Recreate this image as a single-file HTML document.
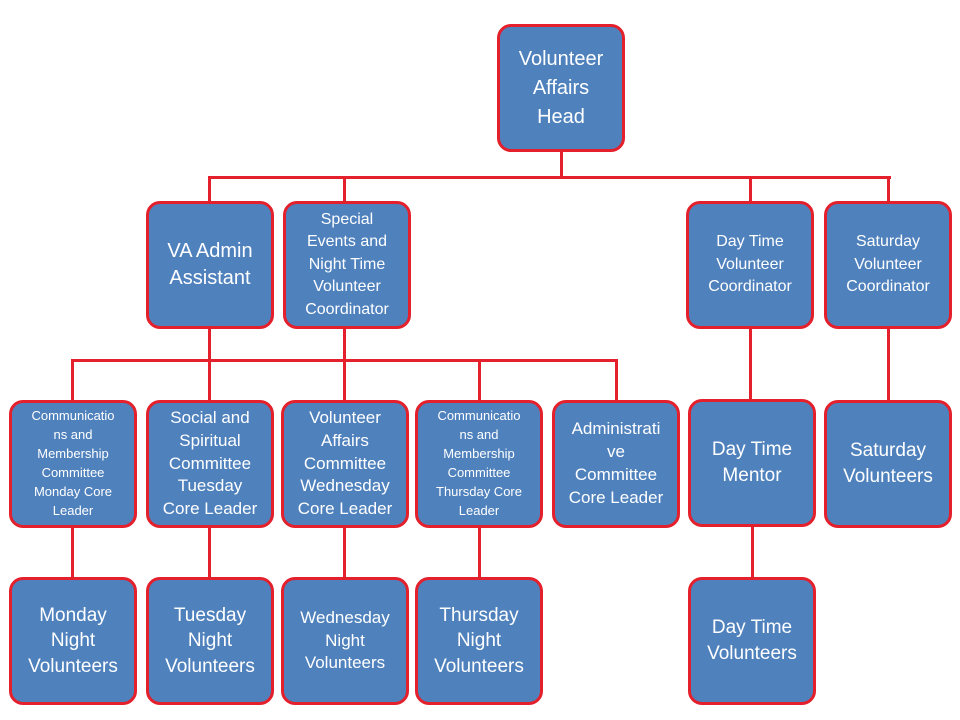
<!DOCTYPE html>
<html><head><meta charset="utf-8"><style>
body{margin:0;width:960px;height:720px;background:#fff;position:relative;overflow:hidden;font-family:"Liberation Sans",sans-serif}
.b{position:absolute;box-sizing:border-box;width:128px;height:128px;background:#4f81bd;border:3px solid #e3202b;border-radius:14px;color:#fff;display:flex;align-items:center;justify-content:center;text-align:center;line-height:1.3;font-size:16px}
.s{font-size:13px;line-height:1.45}
.l{font-size:19px;line-height:1.35}
.h{position:absolute;background:#e3202b;height:3px}
.v{position:absolute;background:#e3202b;width:3px}
</style></head><body>
<div class="v" style="left:560px;top:150px;height:28px"></div>
<div class="h" style="left:208px;top:176px;width:683px"></div>
<div class="v" style="left:208px;top:176px;height:26px"></div>
<div class="v" style="left:343px;top:176px;height:26px"></div>
<div class="v" style="left:749px;top:176px;height:26px"></div>
<div class="v" style="left:887px;top:176px;height:26px"></div>
<div class="v" style="left:208px;top:326px;height:34px"></div>
<div class="v" style="left:343px;top:326px;height:34px"></div>
<div class="h" style="left:71px;top:359px;width:547px"></div>
<div class="v" style="left:71px;top:359px;height:42px"></div>
<div class="v" style="left:208px;top:359px;height:42px"></div>
<div class="v" style="left:343px;top:359px;height:42px"></div>
<div class="v" style="left:478px;top:359px;height:42px"></div>
<div class="v" style="left:615px;top:359px;height:42px"></div>
<div class="v" style="left:749px;top:326px;height:75px"></div>
<div class="v" style="left:887px;top:326px;height:75px"></div>
<div class="v" style="left:71px;top:526px;height:52px"></div>
<div class="v" style="left:208px;top:526px;height:52px"></div>
<div class="v" style="left:343px;top:526px;height:52px"></div>
<div class="v" style="left:478px;top:526px;height:52px"></div>
<div class="v" style="left:751px;top:526px;height:52px"></div>

<div class="b l" style="left:497px;top:24px;font-size:20px;line-height:1.45">Volunteer<br>Affairs<br>Head</div>
<div class="b l" style="left:146px;top:201px;font-size:20px">VA Admin<br>Assistant</div>
<div class="b" style="left:283px;top:201px;line-height:1.4">Special<br>Events and<br>Night Time<br>Volunteer<br>Coordinator</div>
<div class="b" style="left:686px;top:201px;line-height:1.4">Day Time<br>Volunteer<br>Coordinator</div>
<div class="b" style="left:824px;top:201px;line-height:1.4">Saturday<br>Volunteer<br>Coordinator</div>

<div class="b s" style="left:9px;top:400px">Communicatio<br>ns and<br>Membership<br>Committee<br>Monday Core<br>Leader</div>
<div class="b" style="left:146px;top:400px;font-size:17px;line-height:1.35">Social and<br>Spiritual<br>Committee<br>Tuesday<br>Core Leader</div>
<div class="b" style="left:281px;top:400px;font-size:17px;line-height:1.35">Volunteer<br>Affairs<br>Committee<br>Wednesday<br>Core Leader</div>
<div class="b s" style="left:415px;top:400px">Communicatio<br>ns and<br>Membership<br>Committee<br>Thursday Core<br>Leader</div>
<div class="b" style="left:552px;top:400px;font-size:17px;line-height:1.35">Administrati<br>ve<br>Committee<br>Core Leader</div>
<div class="b l" style="left:688px;top:399px">Day Time<br>Mentor</div>
<div class="b l" style="left:824px;top:400px">Saturday<br>Volunteers</div>

<div class="b l" style="left:9px;top:577px">Monday<br>Night<br>Volunteers</div>
<div class="b l" style="left:146px;top:577px">Tuesday<br>Night<br>Volunteers</div>
<div class="b" style="left:281px;top:577px;font-size:17px;line-height:1.35">Wednesday<br>Night<br>Volunteers</div>
<div class="b l" style="left:415px;top:577px">Thursday<br>Night<br>Volunteers</div>
<div class="b l" style="left:688px;top:577px">Day Time<br>Volunteers</div>
</body></html>
